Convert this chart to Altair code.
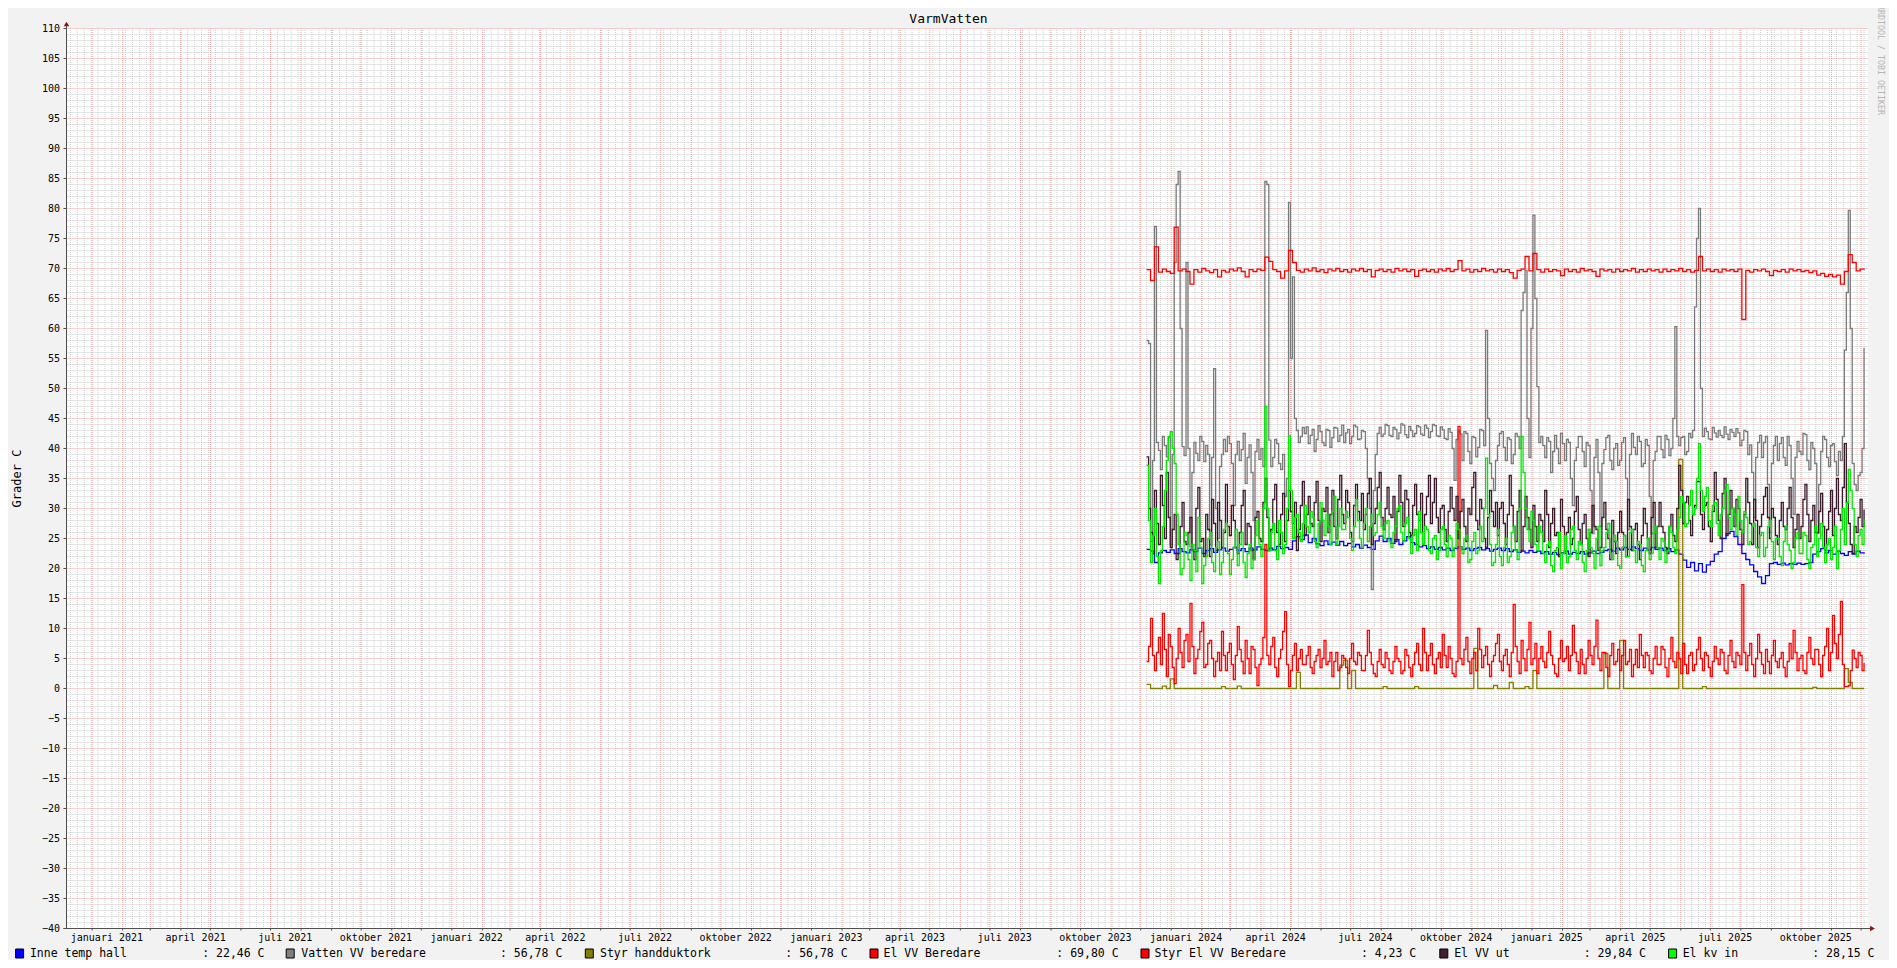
import altair as alt
import pandas as pd

FONT = "DejaVu Sans Mono"

# ---------------- data ----------------
SERIES_START = "2023-12-07"
STEP_SLOW = "4D"   # smooth series: one value every 4 days
STEP_FAST = "2D"   # noisy series: one value every 2 days

inne_temp_hall = [
    23.2, 22.9, 21.0, 22.6, 23.0, 22.7, 23.1, 22.5, 23.3, 22.8,
    22.6, 23.2, 22.8, 23.4, 22.5, 23.0, 23.3, 22.7, 23.1, 23.4,
    22.9, 23.2, 23.5, 23.0, 23.3, 22.8, 23.4, 23.1, 23.6, 23.2,
    23.0, 23.4, 23.1, 23.7, 23.3, 23.5, 23.2, 24.6, 25.3, 24.8,
    25.6, 24.3, 25.0, 24.1, 23.8, 24.6, 24.0, 24.4, 23.9, 24.5,
    23.8, 24.2, 23.6, 24.0, 23.4, 23.9, 23.5, 23.2, 24.6, 25.4,
    24.5, 25.0, 24.2, 24.8, 24.0, 24.6, 25.3, 24.3, 24.0, 23.6,
    23.8, 23.3, 23.6, 23.2, 23.5, 23.1, 23.4, 23.0, 23.3, 23.6,
    23.2, 23.4, 23.0, 23.3, 23.5, 23.1, 23.3, 22.9, 23.2, 23.4,
    23.0, 23.3, 22.8, 23.1, 22.7, 22.9, 22.6, 23.0, 22.7, 22.9,
    22.5, 22.8, 22.4, 22.7, 22.3, 22.6, 22.9, 22.4, 22.7, 22.5,
    22.8, 22.4, 22.6, 22.9, 22.5, 22.7, 23.0, 23.2, 22.9, 23.4,
    23.1, 23.5, 23.2, 23.6, 23.3, 23.0, 23.4, 23.1, 23.5, 23.2,
    23.4, 23.0, 23.3, 22.8, 23.1, 22.4, 21.4, 20.2, 21.0, 19.6,
    20.8, 19.4, 20.6, 21.2, 22.4, 22.8, 25.0, 25.8, 26.2, 25.3,
    24.0, 22.5, 21.5, 20.6, 19.5, 18.6, 17.5, 18.8, 20.8, 21.0,
    20.7, 20.9, 20.6, 20.8, 20.7, 20.9, 20.7, 20.8, 21.0, 22.4,
    22.8, 23.3, 22.6, 23.0, 22.4, 22.9, 22.5, 22.2, 22.8, 22.4,
    22.9, 22.6, 22.46,
]

vatten_vv_beredare = [
    58.0, 57.5, 24.5, 38.0, 77.0, 41.0, 39.7, 36.5, 42.0, 40.5, 38.6, 41.8, 24.0, 39.0, 71.0, 84.0, 86.2, 60.0, 40.3, 38.8,
    71.0, 40.0, 23.6, 36.0, 41.0, 39.2, 38.0, 42.0, 41.2, 37.8, 40.5, 39.0, 24.0, 38.5, 53.3, 30.0, 25.0, 37.0, 39.0, 41.5,
    39.5, 42.0, 40.8, 37.5, 30.5, 39.0, 41.2, 38.0, 39.8, 42.5, 34.2, 38.5, 40.6, 36.0, 28.0, 39.5, 41.5, 38.2, 40.0, 37.0,
    84.5, 84.0, 41.4, 37.0, 38.5, 41.5, 40.8, 37.5, 36.5, 39.0, 32.0, 35.0, 81.0, 55.0, 68.6, 45.0, 43.0, 41.0, 42.0, 43.5,
    42.5, 43.6, 40.8, 42.2, 43.2, 39.5, 41.5, 43.8, 42.8, 41.0, 40.5, 43.2, 43.0, 40.2, 41.8, 43.5, 43.4, 41.2, 42.2, 43.9,
    41.0, 42.6, 43.2, 40.8, 42.0, 43.9, 43.6, 41.5, 41.6, 43.0, 42.8, 40.0, 35.0, 30.0, 16.5, 33.0, 39.0, 42.5, 43.5, 42.0,
    42.4, 44.0, 43.8, 42.2, 42.0, 43.5, 43.2, 41.6, 42.6, 44.1, 43.9, 42.3, 41.8, 43.7, 43.0, 42.0, 42.5, 43.8, 43.6, 42.4,
    42.2, 43.9, 43.4, 41.8, 42.8, 44.0, 43.8, 42.1, 42.0, 43.6, 43.1, 41.7, 41.5, 43.3, 42.7, 40.0, 34.7, 41.5, 43.0, 42.4,
    38.0, 42.8, 42.5, 39.5, 37.5, 42.0, 41.8, 38.6, 40.2, 43.2, 43.0, 40.5, 59.7, 45.0, 37.5, 35.0, 33.0, 38.0, 40.5, 42.5,
    42.8, 40.2, 38.0, 41.8, 41.5, 37.5, 39.0, 42.5, 42.0, 40.0, 63.0, 66.0, 69.7, 45.0, 38.5, 60.0, 78.9, 65.0, 50.3, 41.0,
    42.0, 40.5, 38.5, 41.8, 41.2, 36.0, 39.5, 42.2, 40.0, 37.5, 42.5, 40.8, 38.0, 41.5, 41.0, 35.0, 30.5, 38.0, 40.2, 42.0,
    42.0, 39.5, 37.0, 41.0, 40.5, 33.0, 25.8, 38.5, 41.5, 36.0, 27.0, 37.5, 39.8, 41.8, 42.2, 38.0, 36.5, 40.0, 40.8, 37.2,
    38.0, 41.0, 41.8, 35.0, 26.5, 39.0, 42.5, 40.2, 39.0, 42.0, 41.2, 37.0, 37.5, 41.5, 40.5, 32.0, 25.8, 38.0, 39.5, 42.0,
    42.0, 39.8, 38.5, 42.2, 41.5, 38.8, 40.0, 45.0, 60.3, 42.0, 40.5, 41.8, 42.0, 39.0, 39.5, 42.5, 41.8, 43.0, 63.6, 75.0,
    80.0, 50.0, 42.0, 43.4, 42.8, 41.6, 41.5, 43.5, 42.6, 41.9, 43.0, 42.2, 41.8, 43.6, 42.4, 41.5, 43.2, 42.7, 42.0, 43.3,
    42.6, 40.5, 41.4, 43.0, 42.8, 39.0, 40.6, 36.0, 28.5, 38.5, 41.0, 42.2, 38.5, 41.0, 42.0, 34.0, 26.0, 37.5, 40.5, 42.0,
    38.0, 40.8, 41.8, 38.5, 37.2, 42.0, 40.5, 35.0, 29.0, 38.5, 41.2, 39.5, 39.0, 42.5, 42.3, 38.0, 36.5, 41.0, 40.0, 37.5,
    25.8, 34.0, 39.5, 42.0, 41.5, 38.5, 37.0, 40.5, 40.8, 37.8, 35.5, 39.5, 38.0, 42.0, 56.4, 66.0, 79.7, 60.0, 37.5, 34.0,
    33.0, 35.5, 36.0, 40.0, 56.78,
]

styr_handduktork = [
    0.7, 0.0, 0.0, 0.0, 0.4, 0.0, 1.6, 0.0, 0.0, 0.0,
    0.0, 0.0, 0.0, 0.0, 0.0, 0.0, 0.0, 0.0, 0.0, 0.3,
    0.0, 0.0, 0.0, 0.4, 0.0, 0.0, 0.0, 0.0, 0.0, 0.0,
    0.0, 0.0, 0.0, 0.0, 0.0, 0.0, 0.0, 0.0, 2.7, 0.0,
    0.0, 0.0, 0.0, 0.0, 0.0, 0.0, 0.0, 0.0, 0.0, 3.9,
    4.7, 0.0, 3.0, 0.0, 0.0, 0.0, 0.0, 0.0, 0.0, 0.0,
    0.3, 0.0, 0.0, 0.0, 0.0, 0.0, 0.0, 0.0, 0.3, 0.0,
    0.0, 0.0, 0.0, 0.0, 0.0, 0.0, 0.0, 0.0, 0.0, 0.0,
    0.0, 0.0, 0.0, 6.7, 0.0, 0.0, 0.0, 0.0, 0.5, 0.0,
    0.0, 0.0, 1.0, 0.0, 0.0, 0.0, 0.3, 0.0, 3.0, 0.0,
    0.0, 0.0, 0.0, 0.0, 0.0, 0.0, 0.0, 0.0, 0.0, 0.0,
    0.0, 0.0, 0.0, 0.0, 0.0, 0.0, 5.8, 0.0, 0.0, 0.0,
    8.0, 0.0, 0.0, 0.0, 0.0, 0.0, 0.0, 0.0, 0.0, 0.0,
    0.0, 0.0, 0.0, 0.0, 0.0, 38.2, 0.0, 0.0, 0.0, 0.0,
    0.0, 0.3, 0.0, 0.0, 0.0, 0.0, 0.0, 0.0, 0.0, 0.0,
    0.0, 0.0, 0.0, 0.0, 0.0, 0.0, 0.0, 0.0, 0.0, 0.0,
    0.0, 0.0, 0.0, 0.0, 0.0, 0.0, 0.0, 0.0, 0.0, 0.2,
    0.0, 0.0, 0.0, 0.0, 0.0, 0.0, 0.0, 3.3, 1.0, 0.0,
    0.0, 0.0, 0.0,
]

el_vv_beredare = [
    69.8, 68.0, 73.6, 69.4, 69.9, 69.5, 69.2, 76.9, 69.6, 69.9,
    69.5, 67.4, 69.8, 69.4, 70.0, 69.6, 69.3, 69.8, 68.6, 69.7,
    69.4, 69.9, 69.6, 70.1, 69.5, 68.6, 69.8, 69.5, 69.9, 69.7,
    71.9, 71.2, 69.8, 69.5, 68.4, 69.6, 73.0, 71.0, 69.7, 69.4,
    69.9, 69.6, 70.1, 69.5, 69.8, 69.3, 69.9, 69.6, 70.0, 69.5,
    69.8, 69.4, 69.9, 69.6, 70.0, 69.5, 69.8, 68.6, 69.7, 69.9,
    69.5, 69.8, 69.4, 70.0, 69.6, 69.9, 69.5, 69.8, 68.7, 69.7,
    69.9, 69.5, 69.8, 69.4, 69.9, 69.6, 70.0, 69.5, 69.8, 71.3,
    69.6, 69.9, 69.4, 69.8, 69.5, 70.0, 69.6, 69.8, 69.4, 69.9,
    69.5, 69.8, 69.3, 68.4, 69.7, 69.9, 72.0, 69.6, 72.5, 69.8,
    69.4, 69.9, 69.5, 69.8, 69.6, 68.8, 69.9, 69.5, 69.8, 69.4,
    70.0, 69.6, 69.8, 69.5, 68.7, 69.9, 69.6, 69.8, 69.4, 69.9,
    69.5, 69.8, 69.6, 70.0, 69.4, 69.8, 69.5, 69.9, 69.6, 69.8,
    69.4, 69.9, 69.5, 69.8, 69.6, 70.0, 69.5, 69.8, 69.4, 69.7,
    72.0, 69.6, 69.9, 69.5, 69.8, 69.4, 69.9, 69.6, 69.8, 69.5,
    69.9, 61.5, 69.7, 69.4, 69.8, 69.6, 69.9, 69.5, 68.8, 69.7,
    69.5, 69.8, 69.4, 69.9, 69.6, 69.8, 69.5, 69.7, 69.3, 69.6,
    68.9, 69.2, 68.7, 69.0, 68.6, 68.9, 67.4, 69.5, 72.3, 71.0,
    69.6, 69.9, 69.80,
]

styr_el_vv_beredare = [
    4.5, 7.0, 11.7, 5.5, 3.0, 6.0, 8.5, 4.0, 12.5, 6.5, 2.0, 9.0, 7.0, 3.5, 0.8, 5.0, 10.0, 6.0, 3.5, 8.0,
    9.0, 4.5, 14.2, 7.0, 2.5, 5.0, 6.5, 9.5, 11.0, 3.5, 4.0, 7.5, 8.0, 5.0, 2.0, 4.5, 6.0, 3.0, 9.5, 5.5,
    3.0, 6.0, 7.5, 4.0, 1.5, 5.5, 10.3, 6.5, 4.5, 2.5, 8.0, 5.0, 2.5, 7.0, 6.5, 3.5, 0.5, 4.0, 5.0, 8.5,
    24.0, 5.5, 4.0, 7.0, 8.5, 3.5, 2.0, 5.0, 6.5, 9.5, 12.8, 4.0, 0.3, 3.0, 5.5, 7.5, 3.0, 5.0, 6.5, 4.0,
    4.0, 5.5, 7.0, 3.5, 2.5, 4.5, 5.5, 6.5, 3.5, 5.0, 8.0, 4.0, 4.5, 6.0, 2.0, 4.5, 6.0, 3.0, 3.5, 5.5,
    5.0, 3.5, 2.5, 5.0, 7.5, 4.5, 4.0, 6.0, 5.5, 3.0, 3.0, 5.5, 9.7, 6.0, 4.0, 2.5, 2.0, 4.5, 6.5, 4.0,
    3.5, 6.0, 5.0, 3.0, 2.5, 4.5, 7.0, 5.0, 4.5, 2.5, 3.0, 6.5, 5.5, 3.5, 2.0, 4.0, 6.0, 7.5, 4.0, 3.0,
    10.0, 6.0, 3.0, 5.5, 7.5, 4.0, 2.5, 5.0, 6.0, 3.5, 9.0, 5.5, 3.5, 7.0, 5.0, 2.5, 2.0, 4.5, 43.7, 5.0,
    4.0, 6.5, 8.5, 4.5, 2.5, 5.0, 6.0, 3.0, 10.0, 6.5, 3.5, 5.5, 7.0, 4.0, 2.0, 4.5, 5.5, 7.5, 9.0, 4.5,
    3.0, 5.5, 6.5, 4.0, 2.0, 6.0, 14.0, 7.0, 4.5, 2.5, 8.0, 5.0, 3.0, 6.5, 11.0, 4.0, 5.0, 7.5, 2.5, 5.0,
    7.0, 4.5, 3.5, 6.0, 9.5, 5.5, 4.0, 2.5, 2.0, 5.0, 8.0, 4.5, 5.0, 7.0, 3.0, 5.5, 10.5, 6.0, 4.5, 2.5,
    6.5, 4.0, 2.5, 5.0, 8.0, 5.5, 4.0, 7.0, 11.4, 5.0, 3.0, 6.0, 6.0, 3.5, 2.0, 5.5, 7.5, 4.0, 4.5, 6.5,
    3.0, 5.5, 8.0, 4.0, 4.5, 6.5, 2.0, 4.0, 6.5, 3.5, 9.0, 5.5, 3.5, 6.0, 5.5, 3.0, 2.5, 5.0, 7.0, 4.0,
    4.0, 7.0, 6.5, 3.5, 2.0, 5.0, 8.5, 4.5, 3.5, 6.0, 5.0, 2.5, 7.5, 4.0, 2.5, 5.5, 6.0, 3.0, 4.0, 6.5,
    8.5, 5.0, 3.0, 6.0, 5.5, 3.5, 2.0, 4.5, 7.0, 5.0, 4.0, 6.5, 6.0, 3.0, 2.5, 5.5, 8.0, 4.5, 3.5, 6.0,
    5.5, 4.0, 17.3, 6.0, 3.0, 5.5, 7.5, 4.0, 2.0, 5.0, 9.0, 6.0, 4.0, 2.5, 6.5, 4.5, 2.5, 5.5, 8.0, 4.5,
    3.5, 5.0, 6.0, 3.5, 2.0, 4.5, 7.5, 5.0, 9.7, 6.0, 3.0, 5.0, 5.5, 3.0, 2.5, 6.0, 8.5, 5.0, 4.0, 6.5,
    6.5, 4.0, 2.0, 5.5, 7.0, 10.0, 3.0, 6.0, 12.2, 7.5, 5.0, 9.0, 14.5, 4.0, 0.3, 0.3, 0.5, 3.0, 6.4, 5.0,
    3.5, 6.0, 5.5, 3.0, 4.23,
]

el_vv_ut = [
    38.6, 30.0, 26.0, 22.5, 33.0, 27.5, 24.0, 35.5, 30.5, 25.0, 36.0, 28.5, 23.5, 26.5, 29.0, 21.5, 22.5, 27.0, 31.0, 24.5,
    24.0, 26.0, 28.5, 23.0, 21.5, 30.0, 33.5, 24.5, 25.0, 22.0, 29.0, 26.5, 22.0, 31.5, 27.5, 23.0, 31.0, 28.0, 23.5, 26.0,
    34.0, 27.0, 25.5, 30.5, 28.0, 23.5, 22.5, 26.0, 30.5, 33.0, 24.0, 27.5, 27.0, 23.0, 21.5, 28.5, 29.5, 25.0, 24.5, 31.0,
    35.0, 28.5, 23.0, 26.5, 31.5, 34.0, 26.0, 24.0, 29.0, 32.5, 24.5, 28.0, 33.0, 29.5, 27.5, 31.0, 23.0, 26.5, 30.5, 34.5,
    25.5, 29.0, 32.0, 27.5, 27.0, 31.0, 34.5, 28.0, 24.5, 30.0, 29.5, 33.5, 26.0, 29.0, 33.0, 27.0, 25.0, 31.5, 35.5, 29.0,
    27.5, 33.0, 31.0, 26.0, 24.5, 30.5, 34.0, 29.5, 28.0, 32.5, 26.5, 29.0, 32.5, 35.0, 24.0, 27.5, 30.0, 33.5, 36.0, 28.5,
    26.5, 30.0, 33.5, 29.0, 28.5, 32.0, 24.5, 29.5, 35.5, 31.0, 27.0, 33.0, 31.5, 26.0, 25.5, 30.5, 34.0, 29.0, 28.0, 32.5,
    24.0, 29.0, 32.0, 35.5, 27.5, 31.0, 35.0, 28.5, 26.0, 30.0, 30.5, 26.5, 24.5, 29.5, 33.5, 30.0, 28.0, 32.0, 25.0, 29.5,
    31.5, 27.0, 24.5, 30.0, 29.0, 33.5, 36.0, 28.0, 26.5, 31.5, 30.0, 25.0, 23.5, 28.5, 33.0, 29.5, 27.0, 31.0, 25.5, 30.0,
    31.0, 27.5, 24.0, 29.0, 35.5, 30.5, 27.0, 24.5, 29.5, 33.0, 23.0, 27.0, 32.0, 28.5, 26.5, 23.5, 30.5, 27.0, 24.5, 29.0,
    28.0, 24.5, 33.0, 29.0, 23.5, 27.5, 30.0, 25.5, 26.0, 22.0, 31.5, 27.0, 22.5, 26.0, 28.5, 24.0, 25.0, 29.5, 32.0, 26.5,
    24.0, 27.5, 29.0, 25.0, 22.0, 26.0, 30.5, 27.0, 26.5, 23.0, 23.5, 28.5, 31.0, 26.5, 25.0, 21.5, 28.0, 24.5, 22.5, 26.0,
    29.5, 26.0, 25.5, 22.0, 31.5, 27.0, 23.0, 26.5, 27.5, 24.0, 21.5, 25.5, 30.0, 27.5, 25.0, 22.5, 28.5, 31.0, 23.5, 27.0,
    31.0, 27.0, 26.0, 23.5, 22.5, 27.0, 29.0, 25.5, 24.5, 30.0, 37.2, 33.0, 27.5, 31.0, 32.0, 28.0, 25.5, 29.0, 30.5, 34.5,
    34.5, 29.0, 26.5, 30.5, 31.0, 27.0, 24.5, 29.5, 36.0, 31.5, 28.0, 25.0, 32.5, 35.0, 25.5, 29.0, 33.0, 30.0, 27.0, 31.5,
    30.0, 26.5, 24.0, 29.0, 35.0, 31.0, 27.5, 24.0, 31.5, 28.0, 23.5, 27.0, 29.0, 32.0, 33.5, 28.5, 25.0, 30.0, 28.5, 25.5,
    24.0, 28.0, 31.0, 27.0, 26.5, 30.0, 33.5, 28.5, 23.5, 26.5, 29.0, 25.0, 27.0, 31.5, 34.0, 29.0, 24.5, 28.0, 30.5, 26.0,
    26.0, 29.5, 32.5, 27.0, 23.0, 26.5, 29.5, 33.0, 25.5, 30.0, 35.0, 29.0, 28.0, 33.5, 40.8, 31.0, 27.5, 24.0, 22.5, 27.0,
    26.0, 28.5, 31.5, 27.0, 29.84,
]

el_kv_in = [
    37.2, 28.0, 21.0, 25.5, 30.0, 22.0, 17.5, 23.0, 27.0, 33.0, 38.0, 42.0, 42.8, 40.0, 37.5, 29.0, 24.0, 19.0, 20.0, 26.0,
    25.5, 21.5, 18.0, 24.0, 23.0, 19.5, 28.5, 23.5, 17.5, 20.5, 22.0, 25.0, 26.0, 21.0, 19.5, 23.5, 24.5, 19.0, 21.0, 26.5,
    27.5, 22.5, 19.0, 21.5, 23.5, 26.5, 20.5, 24.0, 26.0, 21.0, 18.5, 22.5, 24.0, 20.0, 21.5, 25.5, 28.0, 24.0, 22.0, 30.0,
    47.0, 30.0, 23.0, 26.0, 27.5, 23.0, 21.5, 28.0, 26.0, 22.5, 24.0, 30.0, 42.1, 33.0, 25.0, 28.5, 29.0, 26.0, 24.5, 27.5,
    30.5, 27.0, 26.0, 29.5, 28.5, 24.5, 23.5, 27.5, 31.0, 28.0, 25.5, 29.0, 27.0, 24.0, 29.5, 32.0, 24.0, 27.0, 30.0, 26.5,
    26.5, 29.5, 28.5, 25.0, 23.0, 27.0, 31.5, 28.0, 25.0, 23.5, 27.5, 30.0, 24.5, 27.0, 29.0, 25.5, 26.0, 29.0, 31.0, 27.0,
    25.0, 27.5, 28.0, 24.5, 23.5, 26.0, 27.0, 30.0, 30.5, 26.0, 24.5, 27.5, 28.5, 25.0, 22.5, 25.5, 26.5, 23.0, 29.5, 26.0,
    24.0, 27.0, 26.5, 23.0, 22.5, 25.0, 25.5, 21.5, 23.0, 26.5, 27.0, 24.0, 22.0, 25.5, 25.0, 22.0, 23.5, 27.5, 26.5, 23.5,
    22.5, 25.0, 25.5, 21.0, 21.5, 24.5, 26.0, 22.5, 23.0, 27.0, 24.5, 30.0, 38.4, 29.0, 24.0, 20.5, 21.0, 24.0, 26.5, 22.0,
    20.5, 23.5, 25.0, 21.0, 22.0, 26.0, 27.0, 23.0, 21.5, 30.0, 42.0, 36.0, 30.0, 26.5, 24.5, 29.5, 28.0, 24.0, 23.0, 27.0,
    26.0, 22.5, 21.0, 24.0, 24.5, 20.5, 19.5, 23.0, 23.5, 26.0, 20.0, 22.5, 25.5, 21.0, 22.0, 26.5, 27.0, 23.0, 21.5, 24.5,
    24.0, 21.0, 19.5, 23.0, 26.5, 23.5, 22.5, 20.0, 25.0, 27.0, 20.5, 23.0, 23.5, 26.0, 27.5, 22.5, 21.5, 25.5, 24.5, 20.5,
    20.0, 23.5, 25.5, 22.0, 22.0, 26.0, 26.5, 23.0, 21.0, 24.5, 24.0, 20.5, 19.5, 23.0, 25.0, 21.5, 22.5, 26.0, 27.0, 23.5,
    21.5, 25.0, 24.5, 21.0, 23.0, 27.0, 26.0, 23.5, 22.5, 26.5, 28.5, 32.0, 31.0, 27.0, 27.5, 30.5, 33.0, 29.0, 30.0, 35.0,
    40.8, 33.0, 29.5, 32.0, 33.5, 28.0, 27.0, 30.5, 31.0, 27.5, 25.5, 29.0, 30.0, 33.0, 34.0, 28.5, 26.5, 30.0, 29.0, 25.5,
    32.0, 28.0, 26.0, 29.5, 28.5, 24.0, 24.5, 27.0, 27.5, 23.5, 22.0, 25.5, 26.0, 22.0, 23.5, 27.0, 28.0, 24.5, 21.5, 25.0,
    25.0, 22.0, 20.5, 24.5, 27.0, 24.0, 23.0, 20.0, 21.0, 25.0, 26.0, 22.5, 22.5, 26.0, 25.5, 21.5, 20.0, 23.5, 24.0, 27.0,
    22.0, 25.0, 27.5, 23.5, 21.0, 24.0, 25.0, 21.5, 23.5, 27.0, 20.0, 23.0, 26.5, 30.0, 24.0, 31.0, 36.5, 33.0, 30.0, 24.0,
    22.0, 25.5, 26.5, 24.0, 28.15,
]

series_names = ["Inne temp hall", "Vatten VV beredare", "Styr handduktork",
                "El VV Beredare", "Styr El VV Beredare", "El VV ut", "El kv in"]
series_values = [inne_temp_hall, vatten_vv_beredare, styr_handduktork,
                 el_vv_beredare, styr_el_vv_beredare, el_vv_ut, el_kv_in]
series_steps = [STEP_SLOW, STEP_FAST, STEP_SLOW, STEP_SLOW, STEP_FAST, STEP_FAST, STEP_FAST]
legend_values = [": 22,46 C", ": 56,78 C", ": 56,78 C", ": 69,80 C",
                 ": 4,23 C", ": 29,84 C", ": 28,15 C"]
label_months = {1: "januari", 4: "april", 7: "juli", 10: "oktober"}
label_years = [2021, 2022, 2023, 2024, 2025]
y_ticks = list(range(-40, 111, 5))

# ---------------- styles / layout ----------------
series_colors = ["#0000FF", "#7A7A7A", "#7F7F00", "#FF0000", "#FF0000", "#3A1A2A", "#00E800"]
LINE_W = 1.3
GRID_MINOR = "#CCCCCC"
GRID_MAJOR = "#F2A4A4"
AXIS_COLOR = "#505050"
ARROW_COLOR = "#8B1010"
W, H = 1801.5, 900
legend_box_x = [-50.9, 219.7, 518.8, 803.5, 1074.5, 1373.3, 1602.1]
legend_text_x = [-36.6, 234.8, 533.5, 817.0, 1088.0, 1387.7, 1616.2]
legend_val_x = [135.7, 433.5, 718.8, 989.8, 1294.4, 1517.2, 1745.7]
legend_box_colors = ["#0000FF", "#808080", "#808000", "#FF0000", "#FF0000", "#402030", "#00FF00"]


def ms(d):
    return int(pd.Timestamp(d, tz="UTC").value // 10**6)


xs = alt.Scale(type="utc", domain=[ms("2020-12-06"), ms("2025-12-08")])
ys = alt.Scale(domain=[-40, 110], nice=False, zero=False)

layers = []
dotted = dict(strokeDash=[1, 1], strokeDashOffset=0.5, strokeWidth=1)

# grid: minor (gray dotted) and major (red dotted)
ymin_df = pd.DataFrame({"v": [k for k in range(-40, 111) if k % 5 != 0]})
layers.append(alt.Chart(ymin_df).mark_rule(color=GRID_MINOR, **dotted)
              .encode(y=alt.Y("v:Q", scale=ys, axis=None)))
week_df = pd.DataFrame({"d": pd.date_range("2020-12-10", "2025-12-08", freq="7D").strftime("%Y-%m-%d")})
layers.append(alt.Chart(week_df).mark_rule(color=GRID_MINOR, **dotted)
              .encode(x=alt.X("d:T", scale=xs, axis=None)))
month_df = pd.DataFrame({"d": pd.date_range("2021-01-01", "2025-12-01", freq="MS").strftime("%Y-%m-%d")})
layers.append(alt.Chart(month_df).mark_rule(color=GRID_MAJOR, **dotted)
              .encode(x=alt.X("d:T", scale=xs, axis=None)))
ymaj_df = pd.DataFrame({"v": y_ticks})
layers.append(alt.Chart(ymaj_df).mark_rule(color=GRID_MAJOR, **dotted)
              .encode(y=alt.Y("v:Q", scale=ys, axis=None)))

# data series (drawn in legend order)
for name, vals, step, col in zip(series_names, series_values, series_steps, series_colors):
    dates = pd.date_range(SERIES_START, periods=len(vals), freq=step).strftime("%Y-%m-%d").tolist()
    df = pd.DataFrame({"date": dates, "value": vals, "series": name})
    layers.append(alt.Chart(df).mark_line(interpolate="step-after", color=col, strokeWidth=LINE_W)
                  .encode(x=alt.X("date:T", scale=xs, axis=None),
                          y=alt.Y("value:Q", scale=ys, axis=None)))

one = alt.Chart(pd.DataFrame({"t": [0]}))

# axes drawn by hand
layers.append(one.mark_rule(color=AXIS_COLOR, strokeWidth=1)
              .encode(x=alt.value(0), y=alt.value(-4), y2=alt.value(H)))
layers.append(one.mark_rule(color=AXIS_COLOR, strokeWidth=1)
              .encode(x=alt.value(-3), x2=alt.value(W + 4), y=alt.value(H)))
layers.append(alt.Chart(ymaj_df).mark_rule(color=AXIS_COLOR, strokeWidth=1)
              .encode(y=alt.Y("v:Q", scale=ys, axis=None), x=alt.value(-3), x2=alt.value(0)))
layers.append(alt.Chart(ymaj_df).mark_text(font=FONT, fontSize=10, color="black", align="right",
                                           baseline="middle")
              .encode(y=alt.Y("v:Q", scale=ys, axis=None), x=alt.value(-6.5), text="v:Q"))
layers.append(alt.Chart(month_df).mark_rule(color=AXIS_COLOR, strokeWidth=1)
              .encode(x=alt.X("d:T", scale=xs, axis=None), y=alt.value(H), y2=alt.value(H + 2)))

# x labels (centered in the month)
lab_df = pd.DataFrame({
    "d": [f"{y}-{m:02d}-16" for y in label_years for m in label_months],
    "label": [f"{label_months[m]} {y}" for y in label_years for m in label_months],
})
layers.append(alt.Chart(lab_df).mark_text(font=FONT, fontSize=10, color="black", baseline="middle")
              .encode(x=alt.X("d:T", scale=xs, axis=None), y=alt.value(909.5), text="label:N"))

# arrows
layers.append(one.mark_point(shape="triangle-up", filled=True, size=30, color=ARROW_COLOR, opacity=1)
              .encode(x=alt.value(0), y=alt.value(-4.5)))
layers.append(one.mark_point(shape="triangle-right", filled=True, size=30, color=ARROW_COLOR, opacity=1)
              .encode(x=alt.value(W + 4.5), y=alt.value(H)))

# title, axis title, watermark
layers.append(one.mark_text(text="VarmVatten", font=FONT, fontSize=13, color="black",
                            align="center", baseline="middle")
              .encode(x=alt.value(882), y=alt.value(-9.5)))
layers.append(one.mark_text(text="Grader C", font=FONT, fontSize=12, color="black", angle=270,
                            align="center", baseline="middle")
              .encode(x=alt.value(-50), y=alt.value(450)))
layers.append(one.mark_text(text="RRDTOOL / TOBI OETIKER", font=FONT, fontSize=8.3, color="#B4B4B4",
                            angle=90, align="center", baseline="middle")
              .encode(x=alt.value(1813), y=alt.value(31.5)))

# legend row
for k, name in enumerate(series_names):
    bx = legend_box_x[k]
    layers.append(one.mark_rect(fill=legend_box_colors[k], stroke="black", strokeWidth=1)
                  .encode(x=alt.value(bx), x2=alt.value(bx + 8), y=alt.value(920.5), y2=alt.value(929.5)))
    layers.append(one.mark_text(text=name, font=FONT, fontSize=11.5, color="black",
                                align="left", baseline="middle")
                  .encode(x=alt.value(legend_text_x[k]), y=alt.value(925)))
    layers.append(one.mark_text(text=legend_values[k], font=FONT, fontSize=11.5, color="black",
                                align="left", baseline="middle")
                  .encode(x=alt.value(legend_val_x[k]), y=alt.value(925)))

chart = alt.layer(*layers).properties(
    width=W, height=H,
    padding={"left": 58.5, "top": 20.5, "right": 21, "bottom": 31.5},
    autosize=alt.AutoSizeParams(type="none"),
    background="#F2F2F2",
).configure_view(strokeWidth=0, fill="white")

chart.save("out.html", embed_options={"renderer": "svg", "actions": False})
